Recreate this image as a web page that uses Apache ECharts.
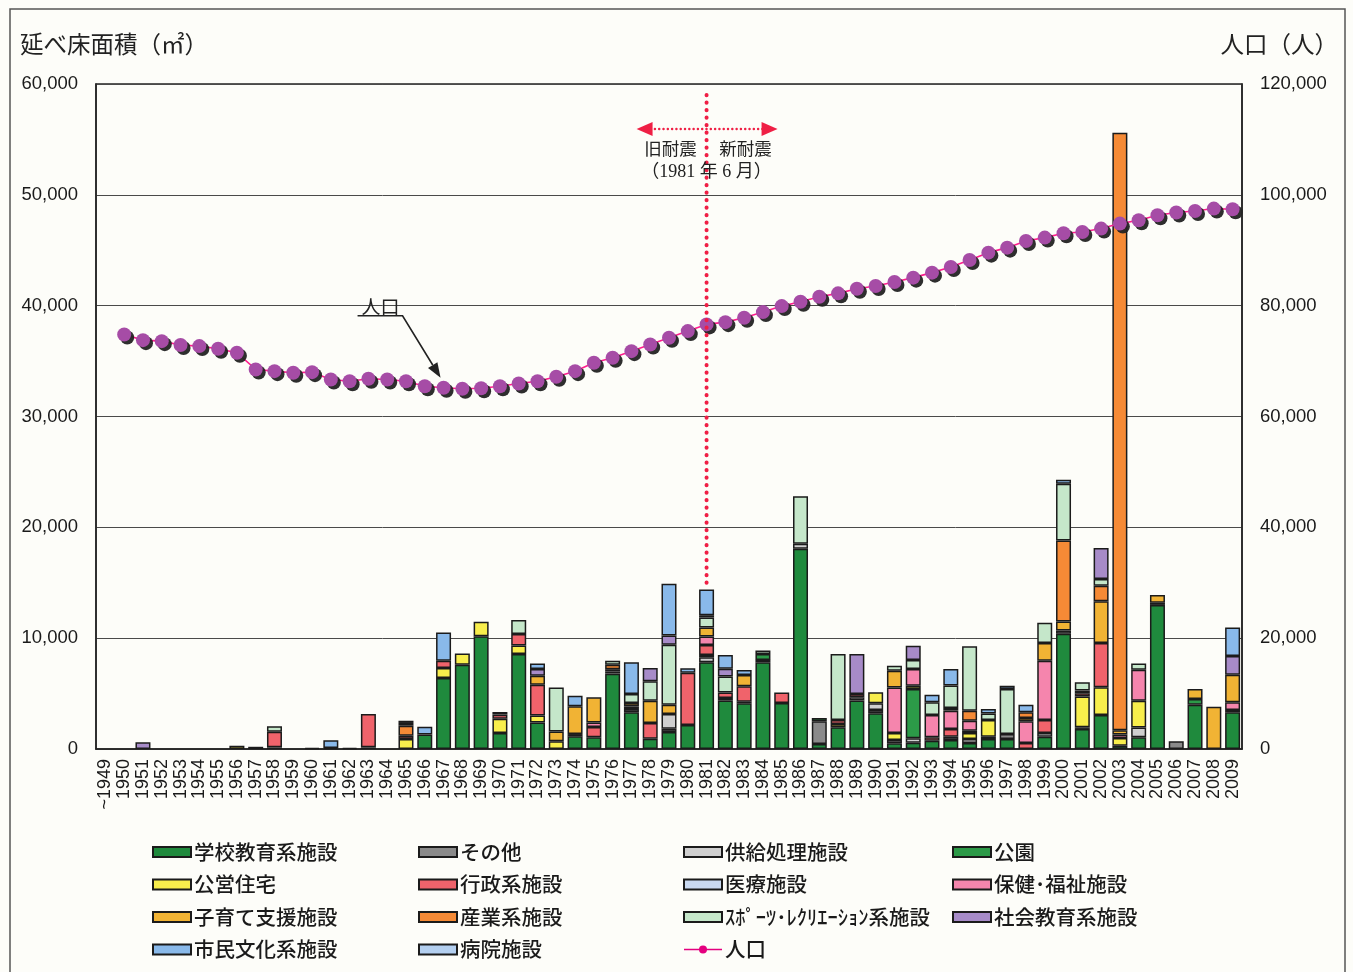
<!DOCTYPE html>
<html>
<head>
<meta charset="utf-8">
<script src="https://cdn.jsdelivr.net/npm/echarts@6/dist/echarts.min.js"></script>
<style>
  html, body { margin: 0; padding: 0; background: #fdfdf9; }
  #chart { width: 1353px; height: 972px; }
</style>
</head>
<body>
<div id="chart"></div>
<script>
// Fiscal years of construction (first bucket covers everything up to 1949)
const years = [
  '~1949', '1950', '1951', '1952', '1953', '1954', '1955', '1956', '1957', '1958',
  '1959', '1960', '1961', '1962', '1963', '1964', '1965', '1966', '1967', '1968',
  '1969', '1970', '1971', '1972', '1973', '1974', '1975', '1976', '1977', '1978',
  '1979', '1980', '1981', '1982', '1983', '1984', '1985', '1986', '1987', '1988',
  '1989', '1990', '1991', '1992', '1993', '1994', '1995', '1996', '1997', '1998',
  '1999', '2000', '2001', '2002', '2003', '2004', '2005', '2006', '2007', '2008',
  '2009'
];

// Total floor area built per year (m²), by facility type
const school = [
  0, 0, 0, 0, 0, 0, 0, 0, 200, 150,
  0, 100, 100, 100, 150, 0, 0, 1300, 6400, 7600,
  10170, 1440, 8580, 2400, 0, 1140, 1050, 6800, 3310, 930,
  1530, 2170, 7830, 4370, 4120, 7830, 4150, 18060, 450, 1960,
  4370, 3220, 510, 570, 750, 810, 540, 900, 900, 0,
  1110, 10390, 1810, 3070, 300, 1050, 13000, 0, 4000, 0,
  3310
];
const other = [
  0, 0, 0, 0, 0, 0, 0, 0, 0, 0,
  0, 0, 0, 0, 0, 0, 0, 0, 0, 0,
  0, 0, 0, 0, 0, 0, 0, 0, 300, 0,
  300, 0, 0, 0, 0, 0, 0, 0, 2050, 0,
  0, 300, 0, 0, 0, 300, 0, 0, 450, 0,
  0, 300, 150, 0, 0, 0, 0, 700, 0, 0,
  0
];
const supply = [
  0, 0, 0, 0, 0, 0, 0, 0, 0, 0,
  0, 0, 0, 0, 0, 0, 0, 0, 0, 0,
  0, 0, 0, 0, 0, 0, 0, 200, 0, 0,
  1320, 0, 450, 240, 0, 210, 0, 450, 0, 0,
  300, 600, 300, 390, 0, 0, 360, 210, 0, 0,
  330, 0, 0, 0, 0, 900, 200, 0, 0, 0,
  0
];
const park = [
  0, 0, 0, 0, 0, 0, 0, 0, 0, 0,
  0, 0, 0, 0, 0, 0, 0, 0, 0, 0,
  0, 0, 0, 0, 0, 0, 0, 0, 0, 0,
  0, 0, 200, 0, 150, 540, 0, 0, 300, 0,
  0, 0, 0, 4450, 0, 0, 0, 0, 0, 0,
  0, 0, 0, 0, 0, 0, 0, 0, 510, 0,
  0
];
const housing = [
  0, 0, 0, 0, 0, 0, 0, 300, 0, 0,
  0, 0, 0, 0, 0, 0, 900, 0, 900, 1020,
  1300, 1300, 750, 630, 690, 210, 0, 0, 0, 0,
  0, 0, 0, 0, 0, 0, 0, 0, 0, 300,
  0, 990, 630, 300, 0, 0, 540, 1500, 0, 0,
  0, 0, 2770, 2500, 700, 2400, 0, 0, 0, 0,
  0
];
const admin = [
  0, 0, 0, 0, 0, 0, 0, 0, 0, 1400,
  0, 0, 0, 0, 3000, 0, 300, 0, 660, 0,
  0, 360, 1050, 2770, 0, 0, 930, 200, 240, 1410,
  0, 4700, 900, 480, 1390, 0, 950, 0, 0, 360,
  300, 0, 0, 0, 300, 690, 210, 0, 0, 540,
  1170, 0, 300, 4000, 0, 0, 0, 0, 0, 0,
  210
];
const medical = new Array(years.length).fill(0);
const welfare = [
  0, 0, 0, 0, 0, 0, 0, 0, 0, 0,
  0, 0, 0, 0, 0, 0, 0, 0, 0, 0,
  0, 0, 0, 0, 0, 0, 420, 0, 0, 0,
  0, 0, 780, 0, 0, 0, 0, 0, 0, 0,
  0, 0, 4120, 1500, 2020, 1660, 900, 0, 0, 1960,
  5360, 0, 240, 0, 300, 2800, 0, 0, 0, 0,
  690
];
const childcare = [
  0, 0, 0, 0, 0, 0, 0, 0, 0, 0,
  0, 0, 0, 0, 0, 0, 0, 0, 0, 0,
  0, 0, 0, 810, 900, 2500, 2260, 0, 300, 2020,
  840, 0, 810, 0, 1020, 0, 0, 0, 0, 0,
  0, 0, 1500, 0, 0, 240, 0, 0, 0, 300,
  1600, 810, 0, 3760, 400, 0, 700, 0, 900, 3820,
  2500
];
const industry = [
  0, 0, 0, 0, 0, 0, 0, 0, 0, 0,
  0, 0, 0, 0, 0, 0, 900, 0, 0, 0,
  0, 0, 0, 0, 0, 0, 0, 400, 0, 0,
  0, 0, 0, 0, 0, 0, 0, 0, 0, 0,
  0, 0, 0, 0, 0, 0, 900, 0, 0, 510,
  0, 7320, 0, 1410, 53900, 0, 0, 0, 0, 0,
  0
];
const sports = [
  0, 0, 0, 0, 0, 0, 0, 0, 0, 500,
  0, 0, 0, 0, 0, 0, 250, 0, 0, 0,
  0, 240, 1260, 0, 3970, 0, 0, 360, 810, 1750,
  5420, 0, 900, 1450, 0, 300, 0, 4300, 0, 5960,
  0, 0, 450, 810, 1140, 2020, 5810, 600, 4060, 0,
  1810, 5120, 750, 600, 0, 570, 0, 0, 0, 0,
  0
];
const socialEdu = [
  0, 0, 600, 0, 0, 0, 0, 0, 0, 0,
  0, 0, 0, 0, 0, 0, 0, 0, 0, 0,
  0, 0, 0, 600, 0, 0, 0, 0, 0, 1200,
  840, 0, 200, 690, 0, 0, 0, 0, 0, 0,
  3610, 0, 0, 1290, 0, 0, 0, 0, 0, 0,
  0, 0, 0, 2800, 0, 0, 0, 0, 0, 0,
  1690
];
const culture = [
  0, 0, 0, 0, 0, 0, 0, 0, 0, 0,
  0, 0, 700, 0, 0, 0, 200, 700, 2560, 0,
  0, 0, 0, 510, 0, 960, 0, 0, 2860, 0,
  4670, 420, 2320, 1260, 450, 0, 0, 0, 0, 0,
  0, 0, 0, 0, 690, 1500, 0, 390, 300, 690,
  0, 360, 0, 0, 0, 0, 0, 0, 0, 0,
  2560
];
const hospital = new Array(years.length).fill(0);

// Population (persons), from 1950 onward
const population = [
  null, 74810, 73780, 73600, 72900, 72700, 72230, 71500, 68490, 68180,
  67890, 68000, 66680, 66370, 66800, 66680, 66370, 65470, 65180, 65000,
  65110, 65470, 65960, 66370, 67170, 68180, 69700, 70600, 71790, 73000,
  74210, 75410, 76620, 77030, 77830, 78840, 79920, 80700, 81620, 82220,
  83060, 83540, 84260, 85060, 85960, 86970, 88240, 89570, 90470, 91670,
  92280, 93060, 93300, 93910, 94810, 95410, 96310, 96800, 97090, 97520,
  97400
];

const layers = [
  { name: '学校教育系施設', data: school, color: '#1f8a3d' },
  { name: 'その他', data: other, color: '#8a8a8a' },
  { name: '供給処理施設', data: supply, color: '#cfcfcf' },
  { name: '公園', data: park, color: '#2c9a48' },
  { name: '公営住宅', data: housing, color: '#f8ee4c' },
  { name: '行政系施設', data: admin, color: '#f0636b' },
  { name: '医療施設', data: medical, color: '#c9d9f1' },
  { name: '保健･福祉施設', data: welfare, color: '#f585ad' },
  { name: '子育て支援施設', data: childcare, color: '#f1b334' },
  { name: '産業系施設', data: industry, color: '#f58a36' },
  { name: 'ｽﾎﾟｰﾂ･ﾚｸﾘｴｰｼｮﾝ系施設', data: sports, color: '#c5e7ca' },
  { name: '社会教育系施設', data: socialEdu, color: '#a78bc8' },
  { name: '市民文化系施設', data: culture, color: '#89b9ea' },
  { name: '病院施設', data: hospital, color: '#b3cff0' }
];

const legendColumns = [
  ['学校教育系施設', '公営住宅', '子育て支援施設', '市民文化系施設'],
  ['その他', '行政系施設', '産業系施設', '病院施設'],
  ['供給処理施設', '医療施設', 'ｽﾎﾟｰﾂ･ﾚｸﾘｴｰｼｮﾝ系施設', '人口'],
  ['公園', '保健･福祉施設', '社会教育系施設']
];
const legendLeft = [152, 418, 683, 952];

const CJK = '"Noto Sans CJK JP", sans-serif';
const LATIN = '"Liberation Sans", Arial, sans-serif';
const fmt = v => Number(v).toLocaleString('en-US');

const chart = echarts.init(document.getElementById('chart'), null, { renderer: 'canvas' });

const barSeries = layers.map(l => ({
  name: l.name,
  type: 'bar',
  stack: 'area',
  barWidth: 15,
  data: l.data.map(v => (v === 0 ? '-' : v)),
  itemStyle: { color: l.color, borderColor: '#1b1b1b', borderWidth: 1.5 },
  emphasis: { disabled: true }
}));

const popSeries = {
  name: '人口',
  type: 'line',
  yAxisIndex: 1,
  data: population,
  symbol: 'circle',
  symbolSize: 14,
  showAllSymbol: true,
  z: 5,
  lineStyle: { color: '#ff1d8e', width: 1.6 },
  itemStyle: {
    color: '#a64ca6',
    shadowColor: 'rgba(35,35,35,0.95)',
    shadowOffsetX: 3,
    shadowOffsetY: 3,
    shadowBlur: 0
  },
  emphasis: { disabled: true }
};

const option = {
  backgroundColor: '#fdfdf9',
  animation: false,
  title: [
    { text: '延べ床面積（㎡）', left: 15, top: 27,
      textStyle: { fontSize: 23.5, fontWeight: 'normal', color: '#222', fontFamily: CJK } },
    { text: '人口（人）', right: 10, top: 27,
      textStyle: { fontSize: 23.5, fontWeight: 'normal', color: '#222', fontFamily: CJK } }
  ],
  legend: legendColumns.map((col, i) => ({
    orient: 'vertical',
    left: legendLeft[i],
    top: 841,
    padding: 0,
    itemWidth: 38,
    itemHeight: 10,
    itemGap: 10.5,
    selectedMode: false,
    textStyle: { fontSize: 20.5, lineHeight: 22, color: '#1a1a1a', fontFamily: CJK, fontWeight: 500, padding: [0, 0, 0, -2] },
    data: col.map(n => n === '人口'
      ? { name: n, itemStyle: { color: '#e4007f', shadowColor: 'transparent', shadowOffsetX: 0, shadowOffsetY: 0 },
          lineStyle: { color: '#e4007f', width: 1.6 } }
      : { name: n, icon: 'rect' })
  })),
  grid: { left: 96, right: 111, top: 84, bottom: 223, show: true, borderColor: '#222', borderWidth: 1.5 },
  xAxis: {
    type: 'category',
    data: years,
    axisTick: { show: false },
    axisLine: { lineStyle: { color: '#222', width: 1.5 } },
    axisLabel: { interval: 0, rotate: 90, fontSize: 18, color: '#1a1a1a', fontFamily: LATIN, margin: 10 }
  },
  yAxis: [
    {
      type: 'value', min: 0, max: 60000, interval: 10000,
      axisLine: { show: true, lineStyle: { color: '#222', width: 1.5 } },
      axisTick: { show: false },
      axisLabel: { formatter: fmt, fontSize: 18.5, color: '#1a1a1a', fontFamily: LATIN, margin: 18 },
      splitLine: { lineStyle: { color: '#4a4a4a', width: 1 } }
    },
    {
      type: 'value', min: 0, max: 120000, interval: 20000, position: 'right',
      axisLine: { show: true, lineStyle: { color: '#222', width: 1.5 } },
      axisTick: { show: false },
      axisLabel: { formatter: fmt, fontSize: 18.5, color: '#1a1a1a', fontFamily: LATIN, margin: 18 },
      splitLine: { show: false }
    }
  ],
  series: [...barSeries, popSeries]
};

chart.setOption(option);

// Annotations: the 1981 seismic-code boundary and the population call-out
const i81 = years.indexOf('1981');
const top81 = layers.reduce((s, l) => s + l.data[i81], 0);
const [x81, yBar81] = chart.convertToPixel({ seriesIndex: 0 }, [i81, top81]);
const yTopAxis = chart.convertToPixel({ seriesIndex: 0 }, [i81, 60000])[1];
const yLineStart = chart.convertToPixel({ seriesIndex: 0 }, [i81, 59000])[1];

const i67 = years.indexOf('1967');
const [px, py] = chart.convertToPixel({ seriesIndex: layers.length }, [i67, population[i67]]);

const red = '#ef1f45';
const arrowY = yTopAxis + 45;
const tip = [px - 3, py - 10];
const start = [px - 41, py - 72];
const dx = tip[0] - start[0], dy = tip[1] - start[1];
const len = Math.hypot(dx, dy);
const ux = dx / len, uy = dy / len;
const bx = tip[0] - 15 * ux, by = tip[1] - 15 * uy;

chart.setOption({
  graphic: [
    { type: 'rect', silent: true, shape: { x: 10, y: 9, width: 1335, height: 1000 },
      style: { fill: 'none', stroke: '#555', lineWidth: 1.5 } },
    { type: 'line', silent: true, z: 10,
      shape: { x1: x81, y1: yLineStart, x2: x81, y2: yBar81 - 3 },
      style: { stroke: red, lineWidth: 4, lineDash: [0.1, 7.4], lineCap: 'round' } },
    { type: 'line', silent: true, z: 10,
      shape: { x1: x81 - 56, y1: arrowY, x2: x81 + 56, y2: arrowY },
      style: { stroke: red, lineWidth: 2.4, lineDash: [0.1, 4.2], lineCap: 'round' } },
    { type: 'polygon', silent: true, z: 10,
      shape: { points: [[x81 - 70, arrowY], [x81 - 54, arrowY - 7], [x81 - 54, arrowY + 7]] },
      style: { fill: red } },
    { type: 'polygon', silent: true, z: 10,
      shape: { points: [[x81 + 71, arrowY], [x81 + 55, arrowY - 7], [x81 + 55, arrowY + 7]] },
      style: { fill: red } },
    { type: 'text', silent: true, z: 11, x: x81 - 36, y: arrowY + 19,
      style: { text: '旧耐震', fill: '#222', font: '17.5px ' + CJK, align: 'center', verticalAlign: 'middle' } },
    { type: 'text', silent: true, z: 11, x: x81 + 39, y: arrowY + 19,
      style: { text: '新耐震', fill: '#222', font: '17.5px ' + CJK, align: 'center', verticalAlign: 'middle' } },
    { type: 'text', silent: true, z: 11, x: x81, y: arrowY + 43,
      style: { text: '（1981 年 6 月）', fill: '#222', font: '18px "Liberation Serif", ' + CJK, align: 'center', verticalAlign: 'middle' } },
    { type: 'text', silent: true, z: 11, x: px - 63, y: py - 81,
      style: { text: '人口', fill: '#222', font: '19px ' + CJK, align: 'center', verticalAlign: 'middle' } },
    { type: 'polyline', silent: true, z: 11,
      shape: { points: [[px - 86, py - 72], start, [bx, by]] },
      style: { stroke: '#222', lineWidth: 1.6, fill: 'none' } },
    { type: 'polygon', silent: true, z: 11,
      shape: { points: [tip, [bx - 5.5 * uy, by + 5.5 * ux], [bx + 5.5 * uy, by - 5.5 * ux]] },
      style: { fill: '#222' } }
  ]
});
</script>
</body>
</html>
